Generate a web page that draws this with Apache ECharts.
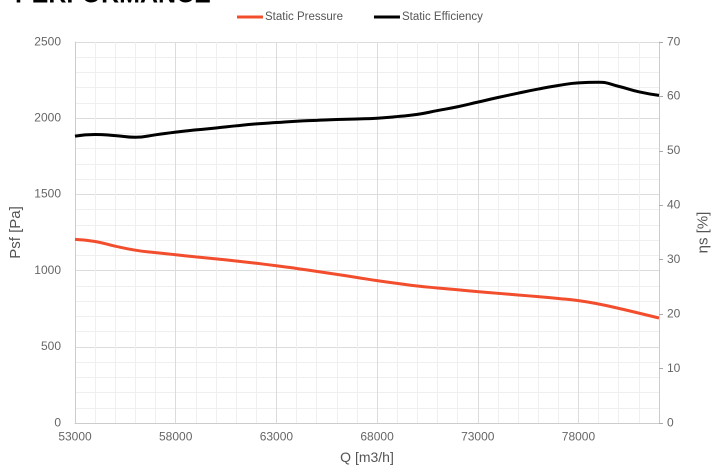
<!DOCTYPE html>
<html>
<head>
<meta charset="utf-8">
<script src="https://cdn.jsdelivr.net/npm/echarts@6/dist/echarts.min.js"></script>
<style>html,body{margin:0;padding:0;background:#fff}#c{width:718px;height:466px}</style>
</head>
<body>
<div id="c"></div>
<script>
var qValues = [53000, 54000, 55000, 56000, 57000, 58000, 59000, 60000, 61000, 62000,
  63000, 64000, 65000, 66000, 67000, 68000, 69000, 70000, 71000, 72000,
  73000, 74000, 75000, 76000, 77000, 78000, 79000, 80000, 81000, 82000];
var pressureVals = [1205, 1191, 1160, 1134, 1118, 1104, 1090, 1077, 1063, 1048,
  1032, 1014, 995, 975, 955, 934, 916, 899, 886, 874,
  862, 851, 840, 829, 817, 803, 781, 752, 721, 689];
var effVals = [52.7, 53.0, 52.8, 52.5, 52.95, 53.45, 53.85, 54.2, 54.6, 54.95,
  55.2, 55.45, 55.6, 55.75, 55.85, 56.0, 56.3, 56.7, 57.4, 58.1,
  58.95, 59.8, 60.6, 61.35, 62.0, 62.5, 62.6, 61.85, 60.85, 60.2];
var seriesNames = ['Static Pressure', 'Static Efficiency'];
var axisNames = ['Q [m3/h]', 'Psf [Pa]', 'ηs [%]'];

function zip(a, b) { return a.map(function (v, i) { return [v, b[i]]; }); }

var chart = echarts.init(document.getElementById('c'), null, { devicePixelRatio: 2 });
var gridCols = ['#dcdcdc', '#efefef', '#efefef', '#efefef', '#efefef'];
chart.setOption({
  animation: false,
  title: {
    text: 'PERFORMANCE', left: 10, top: -22,
    textStyle: { fontFamily: 'Liberation Sans', fontWeight: 'bold', fontSize: 25, color: '#000' }
  },
  legend: {
    top: 6, left: 232, itemGap: 31, itemWidth: 26, itemHeight: 3, icon: 'rect',
    textStyle: { fontFamily: 'Liberation Sans', fontSize: 11.5, color: '#555', padding: [0, 0, 0, -3] },
    data: seriesNames
  },
  grid: { left: 75, right: 59, top: 42, bottom: 43, containLabel: false, outerBoundsMode: 'none' },
  xAxis: {
    type: 'value', min: 53000, max: 82000, interval: 1000,
    name: axisNames[0], nameLocation: 'middle', nameGap: 28,
    nameTextStyle: { fontFamily: 'Liberation Sans', fontSize: 14, color: '#555' },
    axisLine: { show: true, lineStyle: { color: '#ccc' } },
    axisTick: { show: false },
    axisLabel: {
      fontFamily: 'Liberation Sans', fontSize: 12, color: '#666', margin: 8,
      formatter: function (v) { return (v - 53000) % 5000 === 0 ? String(v) : ''; },
      showMaxLabel: false
    },
    splitLine: { show: true, lineStyle: { color: gridCols, width: 1 } }
  },
  yAxis: [{
    type: 'value', min: 0, max: 2500, interval: 100, position: 'left',
    name: axisNames[1], nameLocation: 'middle', nameGap: 41, nameRotate: 90,
    nameTextStyle: { fontFamily: 'Liberation Sans', fontSize: 15, color: '#555' },
    axisLine: { show: true, lineStyle: { color: '#ccc' } },
    axisTick: { show: false },
    axisLabel: {
      fontFamily: 'Liberation Sans', fontSize: 12, color: '#666', margin: 14,
      formatter: function (v) { return v % 500 === 0 ? String(v) : ''; }
    },
    splitLine: { show: true, lineStyle: { color: gridCols, width: 1 } }
  }, {
    type: 'value', min: 0, max: 70, interval: 10, position: 'right',
    name: axisNames[2], nameLocation: 'middle', nameGap: 37, nameRotate: 90,
    nameTextStyle: { fontFamily: 'Liberation Sans', fontSize: 15, color: '#555' },
    axisLine: { show: true, lineStyle: { color: '#ccc' } },
    axisTick: { show: true, length: 4, lineStyle: { color: '#aaa' } },
    axisLabel: { fontFamily: 'Liberation Sans', fontSize: 12, color: '#666', margin: 8 },
    splitLine: { show: false }
  }],
  series: [{
    name: seriesNames[0], type: 'line', yAxisIndex: 0, smooth: true, showSymbol: false,
    data: zip(qValues, pressureVals),
    lineStyle: { color: '#f24e2e', width: 3 }, itemStyle: { color: '#f24e2e' }
  }, {
    name: seriesNames[1], type: 'line', yAxisIndex: 1, smooth: true, showSymbol: false,
    data: zip(qValues, effVals),
    lineStyle: { color: '#000', width: 3 }, itemStyle: { color: '#000' }
  }]
});
</script>
</body>
</html>
